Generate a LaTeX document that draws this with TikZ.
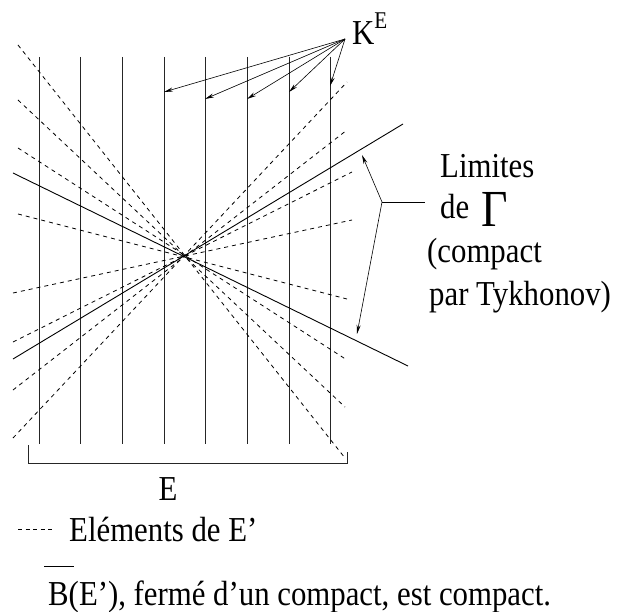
\documentclass[tikz,border=0pt]{standalone}
\usepackage{fontspec}
\setmainfont{Liberation Serif}[FakeStretch=0.88]
\usetikzlibrary{arrows.meta,positioning}

\begin{document}
\begin{tikzpicture}[x=1pt, y=-1pt, >={Stealth[length=9pt,width=4pt]}, font=\fontsize{35}{40}\selectfont]
        \tikzset{fibre/.style={line width=0.8pt, black!85}, limite/.style={line width=0.9pt}, elem/.style={line width=0.8pt, dash pattern=on 4pt off 4pt}, renvoi/.style={->, line width=0.6pt}, lbl/.style={inner sep=0pt, anchor=base west}}
        \useasboundingbox (0,0) rectangle (618,612);
        \foreach \x in {39,80,122,164,205,247,289,330}
            \draw[fibre] (\x,57) -- (\x,444);
        \draw[elem] (18,45) -- (345,458);
        \draw[elem] (18,100) -- (345,407);
        \draw[elem] (18,148) -- (347,360);
        \draw[elem] (18,214) -- (347,299);
        \draw[elem] (13,293) -- (352,220);
        \draw[elem] (13,342) -- (352,172);
        \draw[elem] (13,390) -- (347,130);
        \draw[elem] (13,438) -- (347,82);
        \draw[limite] (13,173) -- (408,366);
        \draw[limite] (13,359) -- (403,124);
        \draw[fibre] (28,445) |- (347,463) -- (347,452);
        \node[lbl] (ke) at (352,45) {K\raisebox{16pt}{\fontsize{24}{26}\selectfont E}};
        \coordinate (kpied) at (345,39);
        \foreach \x/\y in {164/92,205/99,247/99,289/92,330/86}
            \draw[renvoi] (kpied) -- (\x,\y);
        \node[lbl] (limites) at (440,178) {Limites};
        \node[lbl] (de) at (440,219) {de};
        \node[lbl, font=\fontsize{52}{52}\selectfont] (gamma) at (481,227) {Γ};
        \node[lbl] (compact) at (427,262) {(compact};
        \node[lbl] (tykhonov) at (429,305) {par Tykhonov)};
        \coordinate (fourche) at (382,202);
        \coordinate (trait) at (425,202);
        \coordinate (lim1) at (362,155);
        \coordinate (lim2) at (357,334);
        \draw[line width=0.6pt] (fourche) -- (trait);
        \draw[renvoi] (fourche) -- (lim1);
        \draw[renvoi] (fourche) -- (lim2);
        \node[inner sep=0pt, anchor=base] (enom) at (168,500) {E};
        \coordinate (tiret1) at (18,529);
        \coordinate (tiret2) at (55,529);
        \draw[line width=0.6pt, dash pattern=on 4pt off 3.5pt] (tiret1) -- (tiret2);
        \node[lbl] (legende) at (69,541) {Eléments de E’};
        \node[lbl] (conclusion) at (48,605) {B(E’), fermé d’un compact, est compact.};
        \draw[line width=0.9pt] ([shift={(-4,-39)}]conclusion.base west) -- ++(30,0);
    \end{tikzpicture}
\end{document}
